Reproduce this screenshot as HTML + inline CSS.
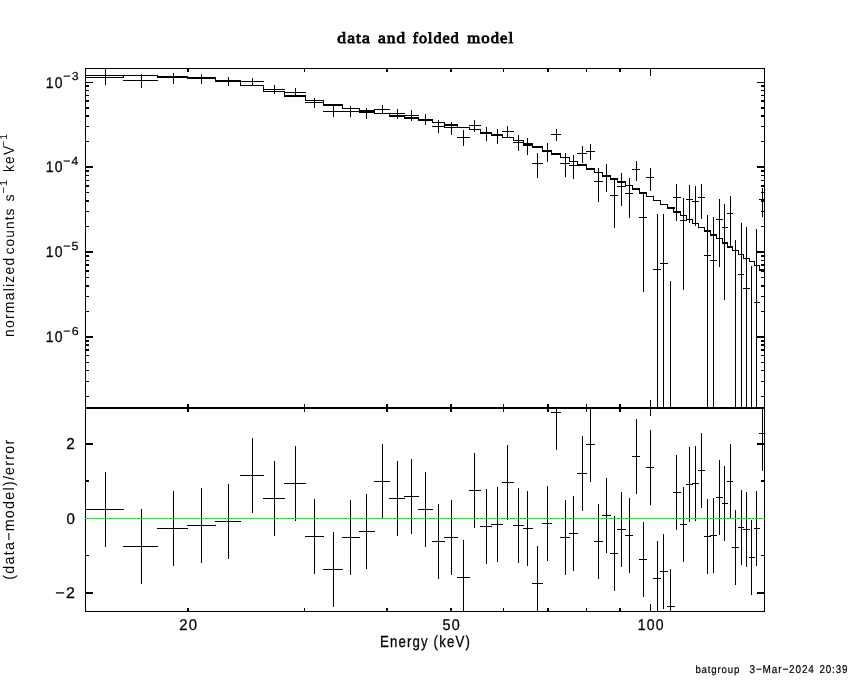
<!DOCTYPE html>
<html><head><meta charset="utf-8"><style>
html,body{margin:0;padding:0;background:#fff;overflow:hidden;width:850px;height:680px;}
svg{display:block;}
</style></head><body>
<svg width="850" height="680" viewBox="0 0 850 680">
<rect x="0" y="0" width="850" height="680" fill="#fff"/>
<g shape-rendering="crispEdges" fill="#000">
<rect x="85" y="68" width="680" height="1"/>
<rect x="85" y="68" width="1" height="544"/>
<rect x="764" y="68" width="1" height="544"/>
<rect x="85" y="407" width="680" height="2"/>
<rect x="85" y="611" width="680" height="1"/>
<rect x="187" y="69" width="2" height="3"/>
<rect x="187" y="404" width="2" height="3"/>
<rect x="187" y="409" width="2" height="3"/>
<rect x="187" y="608" width="2" height="3"/>
<rect x="304" y="69" width="1" height="3"/>
<rect x="304" y="404" width="1" height="3"/>
<rect x="304" y="409" width="1" height="3"/>
<rect x="304" y="608" width="1" height="3"/>
<rect x="386" y="69" width="2" height="3"/>
<rect x="386" y="404" width="2" height="3"/>
<rect x="386" y="409" width="2" height="3"/>
<rect x="386" y="608" width="2" height="3"/>
<rect x="450" y="69" width="2" height="3"/>
<rect x="450" y="404" width="2" height="3"/>
<rect x="450" y="409" width="2" height="3"/>
<rect x="450" y="608" width="2" height="3"/>
<rect x="503" y="69" width="1" height="3"/>
<rect x="503" y="404" width="1" height="3"/>
<rect x="503" y="409" width="1" height="3"/>
<rect x="503" y="608" width="1" height="3"/>
<rect x="547" y="69" width="2" height="3"/>
<rect x="547" y="404" width="2" height="3"/>
<rect x="547" y="409" width="2" height="3"/>
<rect x="547" y="608" width="2" height="3"/>
<rect x="586" y="69" width="1" height="3"/>
<rect x="586" y="404" width="1" height="3"/>
<rect x="586" y="409" width="1" height="3"/>
<rect x="586" y="608" width="1" height="3"/>
<rect x="619" y="69" width="2" height="3"/>
<rect x="619" y="404" width="2" height="3"/>
<rect x="619" y="409" width="2" height="3"/>
<rect x="619" y="608" width="2" height="3"/>
<rect x="650" y="69" width="1" height="7"/>
<rect x="650" y="400" width="1" height="7"/>
<rect x="650" y="409" width="1" height="7"/>
<rect x="650" y="604" width="1" height="7"/>
<rect x="86" y="82" width="7" height="1"/>
<rect x="757" y="82" width="7" height="1"/>
<rect x="86" y="85" width="3" height="2"/>
<rect x="761" y="85" width="3" height="2"/>
<rect x="86" y="90" width="3" height="1"/>
<rect x="761" y="90" width="3" height="1"/>
<rect x="86" y="95" width="3" height="1"/>
<rect x="761" y="95" width="3" height="1"/>
<rect x="86" y="100" width="3" height="2"/>
<rect x="761" y="100" width="3" height="2"/>
<rect x="86" y="107" width="3" height="2"/>
<rect x="761" y="107" width="3" height="2"/>
<rect x="86" y="115" width="3" height="2"/>
<rect x="761" y="115" width="3" height="2"/>
<rect x="86" y="126" width="3" height="1"/>
<rect x="761" y="126" width="3" height="1"/>
<rect x="86" y="141" width="3" height="1"/>
<rect x="761" y="141" width="3" height="1"/>
<rect x="86" y="166" width="7" height="2"/>
<rect x="757" y="166" width="7" height="2"/>
<rect x="86" y="170" width="3" height="2"/>
<rect x="761" y="170" width="3" height="2"/>
<rect x="86" y="175" width="3" height="1"/>
<rect x="761" y="175" width="3" height="1"/>
<rect x="86" y="180" width="3" height="1"/>
<rect x="761" y="180" width="3" height="1"/>
<rect x="86" y="185" width="3" height="2"/>
<rect x="761" y="185" width="3" height="2"/>
<rect x="86" y="192" width="3" height="1"/>
<rect x="761" y="192" width="3" height="1"/>
<rect x="86" y="200" width="3" height="2"/>
<rect x="761" y="200" width="3" height="2"/>
<rect x="86" y="211" width="3" height="1"/>
<rect x="761" y="211" width="3" height="1"/>
<rect x="86" y="226" width="3" height="1"/>
<rect x="761" y="226" width="3" height="1"/>
<rect x="86" y="251" width="7" height="2"/>
<rect x="757" y="251" width="7" height="2"/>
<rect x="86" y="255" width="3" height="2"/>
<rect x="761" y="255" width="3" height="2"/>
<rect x="86" y="260" width="3" height="1"/>
<rect x="761" y="260" width="3" height="1"/>
<rect x="86" y="264" width="3" height="2"/>
<rect x="761" y="264" width="3" height="2"/>
<rect x="86" y="270" width="3" height="2"/>
<rect x="761" y="270" width="3" height="2"/>
<rect x="86" y="277" width="3" height="1"/>
<rect x="761" y="277" width="3" height="1"/>
<rect x="86" y="285" width="3" height="2"/>
<rect x="761" y="285" width="3" height="2"/>
<rect x="86" y="296" width="3" height="1"/>
<rect x="761" y="296" width="3" height="1"/>
<rect x="86" y="311" width="3" height="1"/>
<rect x="761" y="311" width="3" height="1"/>
<rect x="86" y="336" width="7" height="2"/>
<rect x="757" y="336" width="7" height="2"/>
<rect x="86" y="340" width="3" height="2"/>
<rect x="761" y="340" width="3" height="2"/>
<rect x="86" y="344" width="3" height="2"/>
<rect x="761" y="344" width="3" height="2"/>
<rect x="86" y="349" width="3" height="2"/>
<rect x="761" y="349" width="3" height="2"/>
<rect x="86" y="355" width="3" height="1"/>
<rect x="761" y="355" width="3" height="1"/>
<rect x="86" y="362" width="3" height="1"/>
<rect x="761" y="362" width="3" height="1"/>
<rect x="86" y="370" width="3" height="1"/>
<rect x="761" y="370" width="3" height="1"/>
<rect x="86" y="381" width="3" height="1"/>
<rect x="761" y="381" width="3" height="1"/>
<rect x="86" y="396" width="3" height="1"/>
<rect x="761" y="396" width="3" height="1"/>
<rect x="86" y="443" width="7" height="2"/>
<rect x="757" y="443" width="7" height="2"/>
<rect x="86" y="480" width="3" height="2"/>
<rect x="761" y="480" width="3" height="2"/>
<rect x="86" y="518" width="7" height="1"/>
<rect x="757" y="518" width="7" height="1"/>
<rect x="86" y="555" width="3" height="1"/>
<rect x="761" y="555" width="3" height="1"/>
<rect x="86" y="592" width="7" height="2"/>
<rect x="757" y="592" width="7" height="2"/>
<rect x="85" y="77" width="39" height="1"/>
<rect x="123" y="75" width="35" height="1"/>
<rect x="123" y="75" width="1" height="3"/>
<rect x="157" y="76" width="31" height="1"/>
<rect x="157" y="75" width="1" height="2"/>
<rect x="187" y="77" width="29" height="1"/>
<rect x="187" y="76" width="1" height="2"/>
<rect x="215" y="80" width="26" height="1"/>
<rect x="215" y="77" width="1" height="4"/>
<rect x="240" y="85" width="24" height="1"/>
<rect x="240" y="80" width="1" height="6"/>
<rect x="263" y="91" width="22" height="1"/>
<rect x="263" y="85" width="1" height="7"/>
<rect x="284" y="95" width="22" height="2"/>
<rect x="284" y="91" width="1" height="5"/>
<rect x="305" y="100" width="19" height="1"/>
<rect x="305" y="95" width="1" height="6"/>
<rect x="323" y="104" width="20" height="2"/>
<rect x="323" y="100" width="1" height="5"/>
<rect x="342" y="108" width="18" height="1"/>
<rect x="342" y="104" width="1" height="5"/>
<rect x="359" y="110" width="16" height="2"/>
<rect x="359" y="108" width="1" height="3"/>
<rect x="374" y="113" width="16" height="1"/>
<rect x="374" y="110" width="1" height="4"/>
<rect x="389" y="115" width="16" height="2"/>
<rect x="389" y="113" width="1" height="3"/>
<rect x="404" y="117" width="15" height="2"/>
<rect x="404" y="115" width="1" height="3"/>
<rect x="418" y="119" width="15" height="2"/>
<rect x="418" y="117" width="1" height="3"/>
<rect x="432" y="122" width="13" height="1"/>
<rect x="432" y="119" width="1" height="4"/>
<rect x="444" y="124" width="14" height="2"/>
<rect x="444" y="122" width="1" height="3"/>
<rect x="457" y="127" width="13" height="1"/>
<rect x="457" y="124" width="1" height="4"/>
<rect x="469" y="129" width="12" height="1"/>
<rect x="469" y="127" width="1" height="3"/>
<rect x="480" y="132" width="12" height="2"/>
<rect x="480" y="129" width="1" height="4"/>
<rect x="491" y="134" width="12" height="2"/>
<rect x="491" y="132" width="1" height="3"/>
<rect x="502" y="137" width="12" height="1"/>
<rect x="502" y="134" width="1" height="4"/>
<rect x="513" y="140" width="11" height="1"/>
<rect x="513" y="137" width="1" height="4"/>
<rect x="523" y="143" width="10" height="2"/>
<rect x="523" y="140" width="1" height="4"/>
<rect x="532" y="146" width="11" height="2"/>
<rect x="532" y="143" width="1" height="4"/>
<rect x="542" y="150" width="10" height="2"/>
<rect x="542" y="146" width="1" height="5"/>
<rect x="551" y="153" width="10" height="2"/>
<rect x="551" y="150" width="1" height="4"/>
<rect x="560" y="157" width="10" height="1"/>
<rect x="560" y="153" width="1" height="5"/>
<rect x="569" y="161" width="9" height="1"/>
<rect x="569" y="157" width="1" height="5"/>
<rect x="577" y="164" width="10" height="2"/>
<rect x="577" y="161" width="1" height="4"/>
<rect x="586" y="168" width="9" height="2"/>
<rect x="586" y="164" width="1" height="5"/>
<rect x="594" y="172" width="9" height="1"/>
<rect x="594" y="168" width="1" height="5"/>
<rect x="602" y="175" width="9" height="2"/>
<rect x="602" y="172" width="1" height="4"/>
<rect x="610" y="178" width="8" height="2"/>
<rect x="610" y="175" width="1" height="4"/>
<rect x="617" y="181" width="9" height="2"/>
<rect x="617" y="178" width="1" height="4"/>
<rect x="625" y="185" width="8" height="1"/>
<rect x="625" y="181" width="1" height="5"/>
<rect x="632" y="188" width="8" height="2"/>
<rect x="632" y="185" width="1" height="4"/>
<rect x="639" y="192" width="8" height="2"/>
<rect x="639" y="188" width="1" height="5"/>
<rect x="646" y="196" width="8" height="1"/>
<rect x="646" y="192" width="1" height="5"/>
<rect x="653" y="200" width="8" height="1"/>
<rect x="653" y="196" width="1" height="5"/>
<rect x="660" y="204" width="8" height="1"/>
<rect x="660" y="200" width="1" height="5"/>
<rect x="667" y="207" width="8" height="2"/>
<rect x="667" y="204" width="1" height="4"/>
<rect x="673" y="211" width="8" height="2"/>
<rect x="673" y="207" width="1" height="5"/>
<rect x="680" y="215" width="7" height="1"/>
<rect x="680" y="211" width="1" height="5"/>
<rect x="686" y="219" width="7" height="1"/>
<rect x="686" y="215" width="1" height="5"/>
<rect x="692" y="223" width="7" height="1"/>
<rect x="692" y="219" width="1" height="5"/>
<rect x="698" y="227" width="7" height="1"/>
<rect x="698" y="223" width="1" height="5"/>
<rect x="704" y="230" width="7" height="2"/>
<rect x="704" y="227" width="1" height="4"/>
<rect x="710" y="234" width="7" height="2"/>
<rect x="710" y="230" width="1" height="5"/>
<rect x="716" y="238" width="7" height="1"/>
<rect x="716" y="234" width="1" height="5"/>
<rect x="722" y="242" width="6" height="2"/>
<rect x="722" y="238" width="1" height="5"/>
<rect x="727" y="246" width="6" height="2"/>
<rect x="727" y="242" width="1" height="5"/>
<rect x="732" y="250" width="7" height="1"/>
<rect x="732" y="246" width="1" height="5"/>
<rect x="738" y="254" width="6" height="1"/>
<rect x="738" y="250" width="1" height="5"/>
<rect x="743" y="258" width="7" height="1"/>
<rect x="743" y="254" width="1" height="5"/>
<rect x="749" y="261" width="6" height="1"/>
<rect x="749" y="258" width="1" height="4"/>
<rect x="754" y="265" width="6" height="1"/>
<rect x="754" y="261" width="1" height="5"/>
<rect x="759" y="269" width="6" height="2"/>
<rect x="759" y="265" width="1" height="5"/>
<rect x="85" y="75" width="39" height="1"/>
<rect x="105" y="69" width="1" height="16"/>
<rect x="123" y="80" width="35" height="1"/>
<rect x="141" y="74" width="1" height="14"/>
<rect x="157" y="77" width="31" height="1"/>
<rect x="173" y="73" width="1" height="11"/>
<rect x="187" y="78" width="29" height="1"/>
<rect x="201" y="74" width="1" height="10"/>
<rect x="215" y="81" width="26" height="1"/>
<rect x="228" y="77" width="1" height="9"/>
<rect x="240" y="81" width="24" height="1"/>
<rect x="252" y="78" width="1" height="8"/>
<rect x="263" y="89" width="22" height="1"/>
<rect x="274" y="85" width="1" height="9"/>
<rect x="284" y="92" width="22" height="1"/>
<rect x="295" y="88" width="1" height="8"/>
<rect x="305" y="102" width="19" height="1"/>
<rect x="314" y="98" width="1" height="10"/>
<rect x="323" y="111" width="20" height="1"/>
<rect x="333" y="105" width="1" height="12"/>
<rect x="342" y="111" width="18" height="1"/>
<rect x="350" y="106" width="1" height="11"/>
<rect x="359" y="112" width="16" height="1"/>
<rect x="366" y="108" width="1" height="11"/>
<rect x="374" y="109" width="16" height="1"/>
<rect x="382" y="105" width="1" height="9"/>
<rect x="389" y="113" width="16" height="1"/>
<rect x="397" y="109" width="1" height="10"/>
<rect x="404" y="115" width="15" height="1"/>
<rect x="411" y="110" width="1" height="11"/>
<rect x="418" y="119" width="15" height="1"/>
<rect x="425" y="114" width="1" height="11"/>
<rect x="432" y="126" width="13" height="1"/>
<rect x="438" y="120" width="1" height="13"/>
<rect x="444" y="127" width="14" height="1"/>
<rect x="451" y="122" width="1" height="13"/>
<rect x="457" y="137" width="13" height="1"/>
<rect x="463" y="130" width="1" height="16"/>
<rect x="469" y="125" width="12" height="1"/>
<rect x="474" y="120" width="1" height="12"/>
<rect x="480" y="132" width="12" height="1"/>
<rect x="486" y="127" width="1" height="14"/>
<rect x="491" y="134" width="12" height="1"/>
<rect x="497" y="129" width="1" height="15"/>
<rect x="502" y="131" width="12" height="1"/>
<rect x="507" y="126" width="1" height="12"/>
<rect x="513" y="142" width="11" height="1"/>
<rect x="518" y="135" width="1" height="16"/>
<rect x="523" y="145" width="10" height="1"/>
<rect x="527" y="138" width="1" height="17"/>
<rect x="532" y="163" width="11" height="1"/>
<rect x="537" y="153" width="1" height="25"/>
<rect x="542" y="151" width="10" height="1"/>
<rect x="547" y="143" width="1" height="19"/>
<rect x="551" y="134" width="10" height="1"/>
<rect x="556" y="129" width="1" height="12"/>
<rect x="560" y="163" width="10" height="1"/>
<rect x="565" y="153" width="1" height="24"/>
<rect x="569" y="165" width="9" height="1"/>
<rect x="573" y="155" width="1" height="24"/>
<rect x="577" y="153" width="10" height="1"/>
<rect x="582" y="146" width="1" height="17"/>
<rect x="586" y="151" width="9" height="1"/>
<rect x="590" y="144" width="1" height="16"/>
<rect x="594" y="181" width="9" height="1"/>
<rect x="598" y="168" width="1" height="34"/>
<rect x="602" y="175" width="9" height="1"/>
<rect x="606" y="164" width="1" height="28"/>
<rect x="610" y="195" width="8" height="1"/>
<rect x="614" y="179" width="1" height="49"/>
<rect x="617" y="186" width="9" height="1"/>
<rect x="621" y="173" width="1" height="33"/>
<rect x="625" y="193" width="8" height="1"/>
<rect x="629" y="178" width="1" height="40"/>
<rect x="632" y="169" width="8" height="1"/>
<rect x="636" y="161" width="1" height="20"/>
<rect x="639" y="217" width="8" height="1"/>
<rect x="643" y="193" width="1" height="99"/>
<rect x="646" y="177" width="8" height="1"/>
<rect x="650" y="168" width="1" height="23"/>
<rect x="653" y="269" width="8" height="1"/>
<rect x="657" y="214" width="1" height="193"/>
<rect x="660" y="263" width="8" height="1"/>
<rect x="663" y="214" width="1" height="193"/>
<rect x="670" y="281" width="1" height="126"/>
<rect x="673" y="197" width="8" height="1"/>
<rect x="676" y="184" width="1" height="37"/>
<rect x="680" y="220" width="7" height="1"/>
<rect x="683" y="198" width="1" height="92"/>
<rect x="686" y="199" width="7" height="1"/>
<rect x="689" y="185" width="1" height="38"/>
<rect x="692" y="201" width="7" height="1"/>
<rect x="695" y="186" width="1" height="40"/>
<rect x="698" y="197" width="7" height="1"/>
<rect x="701" y="184" width="1" height="35"/>
<rect x="704" y="255" width="7" height="1"/>
<rect x="707" y="215" width="1" height="192"/>
<rect x="710" y="260" width="7" height="1"/>
<rect x="713" y="217" width="1" height="190"/>
<rect x="716" y="219" width="7" height="1"/>
<rect x="719" y="199" width="1" height="68"/>
<rect x="722" y="227" width="6" height="1"/>
<rect x="724" y="204" width="1" height="96"/>
<rect x="727" y="213" width="6" height="1"/>
<rect x="730" y="196" width="1" height="51"/>
<rect x="735" y="240" width="1" height="167"/>
<rect x="738" y="274" width="6" height="1"/>
<rect x="741" y="223" width="1" height="184"/>
<rect x="743" y="288" width="7" height="1"/>
<rect x="746" y="227" width="1" height="180"/>
<rect x="751" y="266" width="1" height="141"/>
<rect x="754" y="302" width="6" height="1"/>
<rect x="756" y="229" width="1" height="178"/>
<rect x="759" y="199" width="6" height="1"/>
<rect x="762" y="188" width="1" height="29"/>
<rect x="85" y="509" width="39" height="1"/>
<rect x="105" y="472" width="1" height="75"/>
<rect x="123" y="546" width="35" height="1"/>
<rect x="141" y="509" width="1" height="75"/>
<rect x="157" y="528" width="31" height="1"/>
<rect x="173" y="491" width="1" height="75"/>
<rect x="187" y="525" width="29" height="1"/>
<rect x="201" y="488" width="1" height="75"/>
<rect x="215" y="521" width="26" height="1"/>
<rect x="228" y="484" width="1" height="75"/>
<rect x="240" y="475" width="24" height="1"/>
<rect x="252" y="438" width="1" height="75"/>
<rect x="263" y="498" width="22" height="1"/>
<rect x="274" y="461" width="1" height="75"/>
<rect x="284" y="483" width="22" height="1"/>
<rect x="295" y="446" width="1" height="75"/>
<rect x="305" y="536" width="19" height="1"/>
<rect x="314" y="499" width="1" height="75"/>
<rect x="323" y="569" width="20" height="1"/>
<rect x="333" y="532" width="1" height="75"/>
<rect x="342" y="537" width="18" height="1"/>
<rect x="350" y="500" width="1" height="75"/>
<rect x="359" y="531" width="16" height="1"/>
<rect x="366" y="494" width="1" height="75"/>
<rect x="374" y="481" width="16" height="1"/>
<rect x="382" y="444" width="1" height="75"/>
<rect x="389" y="498" width="16" height="1"/>
<rect x="397" y="461" width="1" height="75"/>
<rect x="404" y="496" width="15" height="1"/>
<rect x="411" y="459" width="1" height="75"/>
<rect x="418" y="509" width="15" height="1"/>
<rect x="425" y="472" width="1" height="75"/>
<rect x="432" y="541" width="13" height="1"/>
<rect x="438" y="504" width="1" height="75"/>
<rect x="444" y="537" width="14" height="1"/>
<rect x="451" y="500" width="1" height="75"/>
<rect x="457" y="577" width="13" height="1"/>
<rect x="463" y="540" width="1" height="71"/>
<rect x="469" y="490" width="12" height="1"/>
<rect x="474" y="453" width="1" height="75"/>
<rect x="480" y="526" width="12" height="1"/>
<rect x="486" y="489" width="1" height="75"/>
<rect x="491" y="524" width="12" height="1"/>
<rect x="497" y="487" width="1" height="75"/>
<rect x="502" y="482" width="12" height="1"/>
<rect x="507" y="445" width="1" height="75"/>
<rect x="513" y="525" width="11" height="1"/>
<rect x="518" y="488" width="1" height="75"/>
<rect x="523" y="528" width="10" height="1"/>
<rect x="527" y="491" width="1" height="75"/>
<rect x="532" y="583" width="11" height="1"/>
<rect x="537" y="546" width="1" height="65"/>
<rect x="542" y="523" width="10" height="1"/>
<rect x="547" y="486" width="1" height="75"/>
<rect x="551" y="412" width="10" height="1"/>
<rect x="556" y="409" width="1" height="41"/>
<rect x="560" y="537" width="10" height="1"/>
<rect x="565" y="500" width="1" height="75"/>
<rect x="569" y="533" width="9" height="1"/>
<rect x="573" y="496" width="1" height="75"/>
<rect x="577" y="473" width="10" height="1"/>
<rect x="582" y="436" width="1" height="75"/>
<rect x="586" y="444" width="9" height="1"/>
<rect x="590" y="409" width="1" height="73"/>
<rect x="594" y="541" width="9" height="1"/>
<rect x="598" y="504" width="1" height="75"/>
<rect x="602" y="515" width="9" height="1"/>
<rect x="606" y="478" width="1" height="75"/>
<rect x="610" y="553" width="8" height="1"/>
<rect x="614" y="516" width="1" height="75"/>
<rect x="617" y="529" width="9" height="1"/>
<rect x="621" y="492" width="1" height="75"/>
<rect x="625" y="535" width="8" height="1"/>
<rect x="629" y="498" width="1" height="75"/>
<rect x="632" y="456" width="8" height="1"/>
<rect x="636" y="419" width="1" height="75"/>
<rect x="639" y="559" width="8" height="1"/>
<rect x="643" y="522" width="1" height="75"/>
<rect x="646" y="467" width="8" height="1"/>
<rect x="650" y="430" width="1" height="75"/>
<rect x="653" y="578" width="8" height="1"/>
<rect x="657" y="541" width="1" height="70"/>
<rect x="660" y="571" width="8" height="1"/>
<rect x="663" y="534" width="1" height="75"/>
<rect x="667" y="606" width="8" height="1"/>
<rect x="670" y="569" width="1" height="42"/>
<rect x="673" y="492" width="8" height="1"/>
<rect x="676" y="455" width="1" height="75"/>
<rect x="680" y="524" width="7" height="1"/>
<rect x="683" y="487" width="1" height="75"/>
<rect x="686" y="484" width="7" height="1"/>
<rect x="689" y="447" width="1" height="75"/>
<rect x="692" y="483" width="7" height="1"/>
<rect x="695" y="446" width="1" height="75"/>
<rect x="698" y="470" width="7" height="1"/>
<rect x="701" y="433" width="1" height="75"/>
<rect x="704" y="536" width="7" height="1"/>
<rect x="707" y="499" width="1" height="75"/>
<rect x="710" y="535" width="7" height="1"/>
<rect x="713" y="498" width="1" height="75"/>
<rect x="716" y="497" width="7" height="1"/>
<rect x="719" y="460" width="1" height="75"/>
<rect x="722" y="503" width="6" height="1"/>
<rect x="724" y="466" width="1" height="75"/>
<rect x="727" y="481" width="6" height="1"/>
<rect x="730" y="444" width="1" height="75"/>
<rect x="732" y="547" width="7" height="1"/>
<rect x="735" y="510" width="1" height="75"/>
<rect x="738" y="527" width="6" height="1"/>
<rect x="741" y="490" width="1" height="75"/>
<rect x="743" y="529" width="7" height="1"/>
<rect x="746" y="492" width="1" height="75"/>
<rect x="749" y="557" width="6" height="1"/>
<rect x="751" y="520" width="1" height="75"/>
<rect x="754" y="528" width="6" height="1"/>
<rect x="756" y="491" width="1" height="75"/>
<rect x="759" y="433" width="6" height="1"/>
<rect x="762" y="409" width="1" height="62"/>
<rect x="374" y="109" width="1" height="5"/>
<rect x="444" y="122" width="1" height="6"/>
<rect x="457" y="124" width="1" height="4"/>
<rect x="85" y="518" width="680" height="1" fill="#00ff00"/>
</g>
<g fill="#000" style="font-kerning:none;font-variant-ligatures:none;opacity:0.999" text-rendering="geometricPrecision">
<text transform="matrix(0.858545,0.000000,0.000000,0.763359,337.365,42.847)" x="0" y="0" font-family="Liberation Serif, serif" font-weight="normal" font-size="20.48" letter-spacing="1.200" stroke="#000" stroke-width="1.100">data</text>
<text transform="matrix(0.848387,0.000000,0.000000,0.763359,378.089,42.847)" x="0" y="0" font-family="Liberation Serif, serif" font-weight="normal" font-size="20.48" letter-spacing="1.200" stroke="#000" stroke-width="1.100">and</text>
<text transform="matrix(0.783426,0.000000,0.000000,0.752394,412.806,42.850)" x="0" y="0" font-family="Liberation Serif, serif" font-weight="normal" font-size="20.48" letter-spacing="1.200" stroke="#000" stroke-width="1.100">folded</text>
<text transform="matrix(0.817770,0.000000,0.000000,0.763359,467.348,42.847)" x="0" y="0" font-family="Liberation Serif, serif" font-weight="normal" font-size="20.48" letter-spacing="1.200" stroke="#000" stroke-width="1.100">model</text>
<text transform="matrix(0.684068,0.000000,0.000000,0.751724,45.833,87.750)" x="0" y="0" font-family="Liberation Sans, sans-serif" font-weight="normal" font-size="20.48" letter-spacing="1.800" stroke="#000" stroke-width="0.400">10</text>
<text transform="matrix(0.606713,0.000000,0.000000,0.565517,63.287,80.087)" x="0" y="0" font-family="Liberation Sans, sans-serif" font-weight="normal" font-size="20.48" letter-spacing="1.800" stroke="#000" stroke-width="0.400">−3</text>
<text transform="matrix(0.684068,0.000000,0.000000,0.751724,45.833,171.750)" x="0" y="0" font-family="Liberation Sans, sans-serif" font-weight="normal" font-size="20.48" letter-spacing="1.800" stroke="#000" stroke-width="0.400">10</text>
<text transform="matrix(0.598980,0.000000,0.000000,0.581973,63.295,165.200)" x="0" y="0" font-family="Liberation Sans, sans-serif" font-weight="normal" font-size="20.48" letter-spacing="1.800" stroke="#000" stroke-width="0.400">−4</text>
<text transform="matrix(0.684068,0.000000,0.000000,0.751724,45.833,256.750)" x="0" y="0" font-family="Liberation Sans, sans-serif" font-weight="normal" font-size="20.48" letter-spacing="1.800" stroke="#000" stroke-width="0.400">10</text>
<text transform="matrix(0.605670,0.000000,0.000000,0.573828,63.288,250.085)" x="0" y="0" font-family="Liberation Sans, sans-serif" font-weight="normal" font-size="20.48" letter-spacing="1.800" stroke="#000" stroke-width="0.400">−5</text>
<text transform="matrix(0.684068,0.000000,0.000000,0.751724,45.833,341.750)" x="0" y="0" font-family="Liberation Sans, sans-serif" font-weight="normal" font-size="20.48" letter-spacing="1.800" stroke="#000" stroke-width="0.400">10</text>
<text transform="matrix(0.606713,0.000000,0.000000,0.565517,63.287,334.587)" x="0" y="0" font-family="Liberation Sans, sans-serif" font-weight="normal" font-size="20.48" letter-spacing="1.800" stroke="#000" stroke-width="0.400">−6</text>
<text transform="matrix(0.750268,0.000000,0.000000,0.769231,66.227,449.000)" x="0" y="0" font-family="Liberation Sans, sans-serif" font-weight="normal" font-size="20.48" letter-spacing="1.800" stroke="#000" stroke-width="0.400">2</text>
<text transform="matrix(0.735444,0.000000,0.000000,0.758621,66.412,523.848)" x="0" y="0" font-family="Liberation Sans, sans-serif" font-weight="normal" font-size="20.48" letter-spacing="1.800" stroke="#000" stroke-width="0.400">0</text>
<text transform="matrix(0.778884,0.000000,0.000000,0.755245,55.213,597.800)" x="0" y="0" font-family="Liberation Sans, sans-serif" font-weight="normal" font-size="20.48" letter-spacing="1.800" stroke="#000" stroke-width="0.400">−2</text>
<text transform="matrix(0.725275,0.000000,0.000000,0.758621,179.153,629.848)" x="0" y="0" font-family="Liberation Sans, sans-serif" font-weight="normal" font-size="20.48" letter-spacing="1.800" stroke="#000" stroke-width="0.400">20</text>
<text transform="matrix(0.701220,0.000000,0.000000,0.758621,442.425,629.848)" x="0" y="0" font-family="Liberation Sans, sans-serif" font-weight="normal" font-size="20.48" letter-spacing="1.800" stroke="#000" stroke-width="0.400">50</text>
<text transform="matrix(0.683423,0.000000,0.000000,0.758621,637.734,629.848)" x="0" y="0" font-family="Liberation Sans, sans-serif" font-weight="normal" font-size="20.48" letter-spacing="1.800" stroke="#000" stroke-width="0.400">100</text>
<text transform="matrix(0.645351,0.000000,0.000000,0.785752,379.916,647.461)" x="0" y="0" font-family="Liberation Sans, sans-serif" font-weight="normal" font-size="20.48" letter-spacing="1.800" stroke="#000" stroke-width="0.400">Energy (keV)</text>
<text transform="matrix(0.471130,0.000000,0.000000,0.513358,695.378,672.618)" x="0" y="0" font-family="Liberation Sans, sans-serif" font-weight="normal" font-size="20.48" letter-spacing="1.800" stroke="#000" stroke-width="0.400">batgroup</text>
<text transform="matrix(0.486408,0.000000,0.000000,0.551724,749.521,672.890)" x="0" y="0" font-family="Liberation Sans, sans-serif" font-weight="normal" font-size="20.48" letter-spacing="1.800" stroke="#000" stroke-width="0.400">3−Mar−2024</text>
<text transform="matrix(0.478299,0.000000,0.000000,0.551724,819.507,672.890)" x="0" y="0" font-family="Liberation Sans, sans-serif" font-weight="normal" font-size="20.48" letter-spacing="1.800" stroke="#000" stroke-width="0.400">20:39</text>
<text transform="matrix(0.000000,-0.679919,0.738032,0.000000,13.852,336.925)" x="0" y="0" font-family="Liberation Sans, sans-serif" font-weight="normal" font-size="20.48" letter-spacing="1.800">normalized</text>
<text transform="matrix(0.000000,-0.659973,0.677083,0.000000,13.865,254.374)" x="0" y="0" font-family="Liberation Sans, sans-serif" font-weight="normal" font-size="20.48" letter-spacing="1.800">counts</text>
<text transform="matrix(0.000000,-0.694289,0.697051,0.000000,13.861,201.396)" x="0" y="0" font-family="Liberation Sans, sans-serif" font-weight="normal" font-size="20.48" letter-spacing="1.800">s</text>
<text transform="matrix(0.000000,-0.540190,0.496806,0.000000,7.000,193.546)" x="0" y="0" font-family="Liberation Sans, sans-serif" font-weight="normal" font-size="20.48" letter-spacing="1.800">−1</text>
<text transform="matrix(0.000000,-0.668092,0.738032,0.000000,13.852,171.922)" x="0" y="0" font-family="Liberation Sans, sans-serif" font-weight="normal" font-size="20.48" letter-spacing="1.800">keV</text>
<text transform="matrix(0.000000,-0.514261,0.496806,0.000000,7.000,146.919)" x="0" y="0" font-family="Liberation Sans, sans-serif" font-weight="normal" font-size="20.48" letter-spacing="1.800">−1</text>
<text transform="matrix(0.000000,-0.697429,0.754717,0.000000,14.100,579.686)" x="0" y="0" font-family="Liberation Sans, sans-serif" font-weight="normal" font-size="20.48" letter-spacing="1.800">(data−model)/error</text>
</g>

</svg>
</body></html>
